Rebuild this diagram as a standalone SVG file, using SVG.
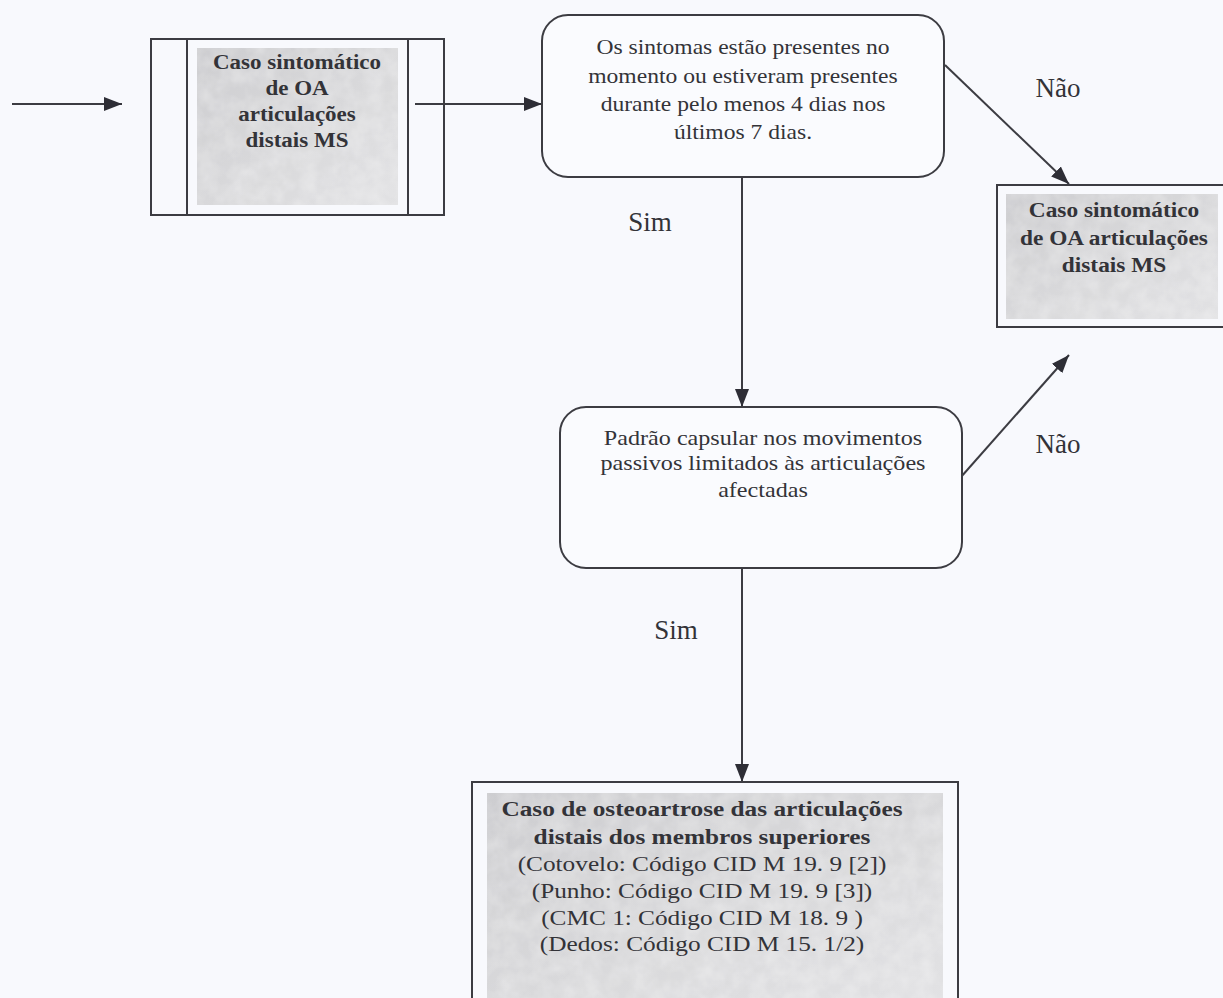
<svg xmlns="http://www.w3.org/2000/svg" width="1223" height="998" viewBox="0 0 1223 998">
  <defs>
    <style>
      .frame { fill: none; stroke: #3c3c42; stroke-width: 2; }
      .decision { fill: #fafbfe; stroke: #3c3c42; stroke-width: 2; }
      .edge { fill: none; stroke: #3c3c42; stroke-width: 2; }
      .t { font-family: "Liberation Serif", "DejaVu Serif", serif; fill: #333338; text-anchor: middle; }
      .b { font-weight: bold; }
      .lbl { font-size: 27px; }
      .shade { fill: url(#shade); filter: url(#grain); }
    </style>
    <linearGradient id="shade" x1="0" y1="0" x2="1" y2="1">
      <stop offset="0" stop-color="#cdcdd0"/>
      <stop offset="0.5" stop-color="#d8d8da"/>
      <stop offset="1" stop-color="#e2e2e4"/>
    </linearGradient>
    <!-- soft paper grain for the shaded panels -->
    <filter id="grain" x="0" y="0" width="100%" height="100%">
      <feTurbulence type="fractalNoise" baseFrequency="0.06" numOctaves="3" seed="4" result="noise"/>
      <feColorMatrix in="noise" type="matrix" values="0 0 0 0 1  0 0 0 0 1  0 0 0 0 1  0.45 0 0 0 -0.12" result="light"/>
      <feComposite in="light" in2="SourceGraphic" operator="in" result="spots"/>
      <feMerge>
        <feMergeNode in="SourceGraphic"/>
        <feMergeNode in="spots"/>
      </feMerge>
    </filter>
    <marker id="head" viewBox="0 0 18 14" refX="18" refY="7" markerWidth="18" markerHeight="14" markerUnits="userSpaceOnUse" orient="auto">
      <path d="M0,0 L18,7 L0,14 z" fill="#2e2e36"/>
    </marker>
  </defs>

  <rect x="0" y="0" width="1223" height="998" fill="#f8f9fd"/>

  <!-- connectors and branch labels -->
  <g id="connectors">
    <line class="edge" x1="12" y1="104" x2="122" y2="104" marker-end="url(#head)"/>
    <line class="edge" x1="415" y1="104" x2="542" y2="104" marker-end="url(#head)"/>
    <line class="edge" x1="742" y1="177" x2="742" y2="407" marker-end="url(#head)"/>
    <line class="edge" x1="945" y1="65" x2="1069" y2="184" marker-end="url(#head)"/>
    <line class="edge" x1="961" y1="477" x2="1069" y2="355" marker-end="url(#head)"/>
    <line class="edge" x1="742" y1="568" x2="742" y2="782" marker-end="url(#head)"/>
    <text class="t lbl" x="1058" y="97">Não</text>
    <text class="t lbl" x="650" y="231">Sim</text>
    <text class="t lbl" x="1058" y="453">Não</text>
    <text class="t lbl" x="676" y="639">Sim</text>
  </g>

  <!-- start: predefined process -->
  <g id="start">
    <rect x="151" y="39" width="293" height="176" fill="#fbfbfd" class="frame"/>
    <rect class="shade" x="197" y="48" width="201" height="157"/>
    <line class="frame" x1="187" y1="39" x2="187" y2="215"/>
    <line class="frame" x1="408" y1="39" x2="408" y2="215"/>
    <g transform="translate(297 0) scale(1.15 1)" class="t b" font-size="20">
      <text x="0" y="69">Caso sintomático</text>
      <text x="0" y="95">de OA</text>
      <text x="0" y="121">articulações</text>
      <text x="0" y="147">distais MS</text>
    </g>
  </g>

  <!-- decision: symptom duration -->
  <g id="symptoms">
    <rect class="decision" x="542" y="15" width="402" height="162" rx="26" ry="26"/>
    <g transform="translate(743 0) scale(1.15 1)" class="t" font-size="20.5">
      <text x="0" y="54">Os sintomas estão presentes no</text>
      <text x="0" y="83">momento ou estiveram presentes</text>
      <text x="0" y="111">durante pelo menos 4 dias nos</text>
      <text x="0" y="139">últimos 7 dias.</text>
    </g>
  </g>

  <!-- outcome: symptomatic case -->
  <g id="symptomatic">
    <rect x="997" y="185" width="232" height="142" fill="#fbfbfd" class="frame"/>
    <rect class="shade" x="1006" y="194" width="212" height="125"/>
    <g transform="translate(1114 0) scale(1.15 1)" class="t b" font-size="20.3">
      <text x="0" y="217">Caso sintomático</text>
      <text x="0" y="245">de OA articulações</text>
      <text x="0" y="272">distais MS</text>
    </g>
  </g>

  <!-- decision: capsular pattern -->
  <g id="capsular">
    <rect class="decision" x="560" y="407" width="402" height="161" rx="26" ry="26"/>
    <g transform="translate(763 0) scale(1.15 1)" class="t" font-size="21">
      <text x="0" y="445">Padrão capsular nos movimentos</text>
      <text x="0" y="470">passivos limitados às articulações</text>
      <text x="0" y="497">afectadas</text>
    </g>
  </g>

  <!-- outcome: osteoarthrosis case -->
  <g id="osteoarthrosis">
    <rect x="472" y="782" width="486" height="230" fill="#fbfbfd" class="frame"/>
    <rect class="shade" x="487" y="793" width="456" height="205"/>
    <g transform="translate(702 0) scale(1.15 1)" class="t" font-size="22">
      <text class="b" x="0" y="816">Caso de osteoartrose das articulações</text>
      <text class="b" x="0" y="844">distais dos membros superiores</text>
      <text x="0" y="871">(Cotovelo: Código CID M 19. 9 [2])</text>
      <text x="0" y="898">(Punho: Código CID M 19. 9 [3])</text>
      <text x="0" y="925">(CMC 1: Código CID M 18. 9 )</text>
      <text x="0" y="951">(Dedos: Código CID M 15. 1/2)</text>
    </g>
  </g>
</svg>
